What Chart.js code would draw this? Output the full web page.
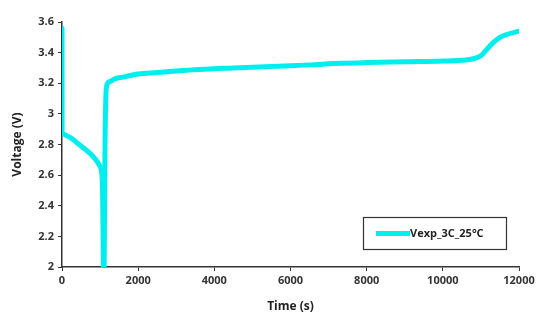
<!DOCTYPE html>
<html>
<head>
<meta charset="utf-8">
<script src="https://cdn.jsdelivr.net/npm/chart.js@4"></script>
<style>
  html, body { margin: 0; padding: 0; background: #fff; }
  #wrap { width: 536px; height: 320px; position: relative; }
</style>
</head>
<body>
<div id="wrap"><canvas id="c" width="536" height="320"></canvas></div>
<script>
// Discharge/charge voltage record at 3C, 25 °C
const seriesName = 'Vexp_3C_25°C';
const timeS   = [0,    2,    20,   100,  250,  400,  550,  700,  820,  920,  990,  1040, 1065, 1080, 1090, 1100, 1115, 1130, 1150, 1180, 1250, 1400, 1600, 2000, 2500, 3000, 3600, 4500, 5500, 6500, 7300, 8000, 9000, 10000, 10500, 10800, 11000, 11150, 11300, 11500, 11700, 12000];
const voltage = [3.56, 2.88, 2.87, 2.86, 2.84, 2.81, 2.78, 2.75, 2.72, 2.69, 2.66, 2.62, 2.50, 2.20, 1.90, 1.85, 2.30, 2.80, 3.10, 3.19, 3.21, 3.23, 3.24, 3.26, 3.27, 3.28, 3.29, 3.30, 3.31, 3.32, 3.33, 3.335, 3.34, 3.345, 3.35, 3.36, 3.38, 3.42, 3.46, 3.50, 3.52, 3.54];
const xTicks = [0, 2000, 4000, 6000, 8000, 10000, 12000];
const yTicks = [2, 2.2, 2.4, 2.6, 2.8, 3, 3.2, 3.4, 3.6];

const lineColor = 'rgb(0,238,238)';
const fontFam = "'Open Sans', 'Liberation Sans', sans-serif";

const points = timeS.map((t, i) => ({ x: t, y: voltage[i] }));

// Boxed legend drawn inside the plot area
const boxedLegend = {
  id: 'boxedLegend',
  afterDraw(chart) {
    const ctx = chart.ctx;
    ctx.save();
    ctx.strokeStyle = '#333';
    ctx.lineWidth = 1.2;
    ctx.fillStyle = '#fff';
    ctx.fillRect(363.5, 217.5, 143, 32);
    ctx.strokeRect(363.5, 217.5, 143, 32);
    ctx.strokeStyle = lineColor;
    ctx.lineWidth = 5;
    ctx.beginPath();
    ctx.moveTo(376, 233.5);
    ctx.lineTo(410, 233.5);
    ctx.stroke();
    ctx.fillStyle = '#222';
    ctx.font = "bold 11px " + fontFam;
    ctx.textBaseline = 'middle';
    ctx.fillText(seriesName, 410, 233.5);
    ctx.restore();
  }
};

new Chart(document.getElementById('c'), {
  type: 'line',
  data: {
    datasets: [{
      label: seriesName,
      data: points,
      borderColor: lineColor,
      backgroundColor: lineColor,
      borderWidth: 5,
      pointRadius: 0,
      cubicInterpolationMode: 'monotone',
      borderCapStyle: 'round',
      borderJoinStyle: 'round'
    }]
  },
  options: {
    responsive: false,
    animation: false,
    layout: { padding: { left: 0, right: 17, top: 22, bottom: 0 } },
    plugins: { legend: { display: false }, tooltip: { enabled: false } },
    scales: {
      x: {
        type: 'linear',
        min: 0, max: 12000,
        afterBuildTicks(scale) { scale.ticks = xTicks.map(v => ({ value: v })); },
        afterFit(scale) { scale.height = 53; scale.paddingRight = 0; },
        grid: { drawOnChartArea: false, drawTicks: true, tickLength: 4, color: '#333' },
        border: { color: '#333', width: 1.5 },
        ticks: { color: '#333', font: { family: fontFam, size: 11, weight: 'bold' }, padding: 3, maxRotation: 0, callback: v => String(v) },
        title: { display: true, text: 'Time (s)', color: '#222', font: { family: fontFam, size: 12, weight: 'bold' }, padding: { top: 2, bottom: 6 } }
      },
      y: {
        min: 2, max: 3.6,
        afterBuildTicks(scale) { scale.ticks = yTicks.map(v => ({ value: v })); },
        afterFit(scale) { scale.width = 62; },
        grid: { drawOnChartArea: false, drawTicks: true, tickLength: 4, color: '#333' },
        border: { color: '#333', width: 1.5 },
        ticks: { color: '#333', font: { family: fontFam, size: 11, weight: 'bold' }, padding: 4, callback: v => String(Math.round(v * 10) / 10) },
        title: { display: true, text: 'Voltage (V)', color: '#222', font: { family: fontFam, size: 12, weight: 'bold' }, padding: { top: 10, bottom: 4 } }
      }
    }
  },
  plugins: [boxedLegend]
});
</script>
</body>
</html>
